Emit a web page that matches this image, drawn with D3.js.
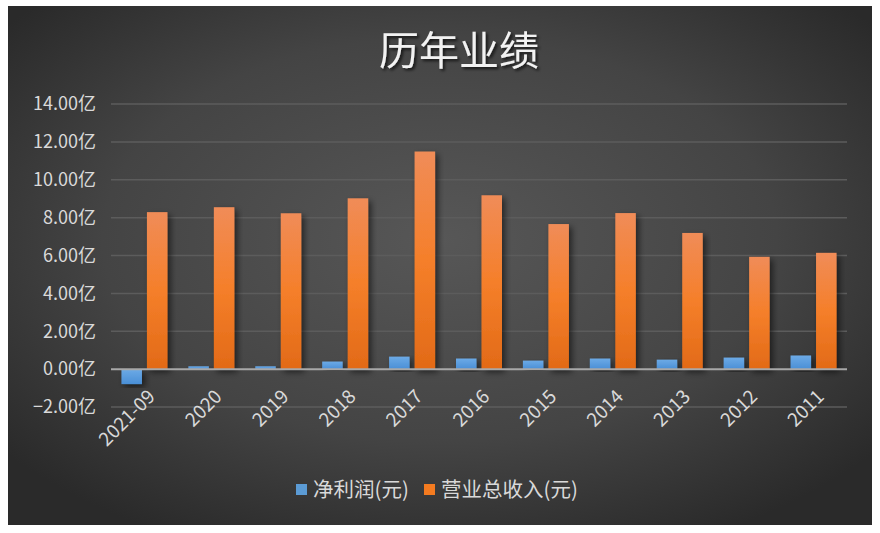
<!DOCTYPE html>
<html><head><meta charset="utf-8">
<script src="https://cdn.jsdelivr.net/npm/d3@7"></script>
<style>html,body{margin:0;padding:0;background:#fff;}svg{display:block;}</style>
</head><body>
<svg id="chart" width="880" height="533"></svg>
<script>
const categories = ["2021-09","2020","2019","2018","2017","2016","2015","2014","2013","2012","2011"];
const netProfit = [-0.79, 0.15, 0.15, 0.40, 0.66, 0.56, 0.45, 0.56, 0.50, 0.61, 0.72];
const revenue = [8.29, 8.55, 8.23, 9.02, 11.49, 9.18, 7.66, 8.24, 7.19, 5.93, 6.14];
const yTicks = [-2, 0, 2, 4, 6, 8, 10, 12, 14];
const seriesNames = ["净利润(元)", "营业总收入(元)"];
const title = "历年业绩";

const svg = d3.select("#chart");
const defs = svg.append("defs");
const font = "'Noto Sans CJK SC','Noto Sans',sans-serif";

const bg = defs.append("radialGradient").attr("id","bg").attr("cx","50%").attr("cy","45%").attr("r","65%");
bg.append("stop").attr("offset","0%").attr("stop-color","#575757");
bg.append("stop").attr("offset","60%").attr("stop-color","#444");
bg.append("stop").attr("offset","100%").attr("stop-color","#2a2a2a");

const og = defs.append("linearGradient").attr("id","og").attr("x1",0).attr("y1",0).attr("x2",0).attr("y2",1);
og.append("stop").attr("offset","0%").attr("stop-color","#f08c58");
og.append("stop").attr("offset","50%").attr("stop-color","#f57f2a");
og.append("stop").attr("offset","100%").attr("stop-color","#e26a17");
const bgr = defs.append("linearGradient").attr("id","bgr").attr("x1",0).attr("y1",0).attr("x2",0).attr("y2",1);
bgr.append("stop").attr("offset","0%").attr("stop-color","#6caae6");
bgr.append("stop").attr("offset","100%").attr("stop-color","#4a8fd6");

const sh = defs.append("filter").attr("id","sh").attr("x","-30%").attr("y","-10%").attr("width","170%").attr("height","130%");
sh.append("feDropShadow").attr("dx",3).attr("dy",3).attr("stdDeviation",3).attr("flood-color","#000").attr("flood-opacity",0.55);
const tsh = defs.append("filter").attr("id","tsh");
tsh.append("feDropShadow").attr("dx",2).attr("dy",2).attr("stdDeviation",1.5).attr("flood-color","#000").attr("flood-opacity",0.7);

svg.append("rect").attr("x",8).attr("y",6).attr("width",864).attr("height",519).attr("fill","url(#bg)");

const plot = {left:111, right:847, top:104, bottom:407};
const y = d3.scaleLinear().domain([-2,14]).range([plot.bottom, plot.top]);
const x0 = d3.scaleBand().domain(categories).range([plot.left, plot.right]).paddingInner(0).paddingOuter(0);
const barW = 20.5, gap = 5;

// grid
svg.append("g").selectAll("line").data(yTicks.filter(d=>d!==0)).join("line")
  .attr("x1",plot.left).attr("x2",plot.right)
  .attr("y1",d=>y(d)).attr("y2",d=>y(d))
  .attr("stroke","#5c5c5c").attr("stroke-width",1.5);

// y labels
const yAxis = d3.axisLeft(y).tickValues(yTicks).tickSize(0).tickPadding(0)
  .tickFormat(d=>d3.format(".2f")(d)+"亿");
const ga = svg.append("g").attr("transform",`translate(96,0)`).call(yAxis);
ga.select(".domain").remove();
ga.selectAll("text").attr("fill","#d9d9d9").attr("font-size","18px").attr("font-family",font);

// bars
const gb = svg.append("g");
gb.selectAll("rect.np").data(categories).join("rect").attr("class","np")
  .attr("x",(d)=>x0(d)+x0.bandwidth()/2 - gap/2 - barW)
  .attr("width",barW)
  .attr("y",(d,i)=>y(Math.max(0,netProfit[i])))
  .attr("height",(d,i)=>Math.abs(y(netProfit[i])-y(0)))
  .attr("fill","url(#bgr)").attr("filter","url(#sh)");
gb.selectAll("rect.rv").data(categories).join("rect").attr("class","rv")
  .attr("x",(d)=>x0(d)+x0.bandwidth()/2 + gap/2)
  .attr("width",barW)
  .attr("y",(d,i)=>y(Math.max(0,revenue[i])))
  .attr("height",(d,i)=>Math.abs(y(revenue[i])-y(0)))
  .attr("fill","url(#og)").attr("filter","url(#sh)");

// zero line
svg.append("line").attr("x1",plot.left).attr("x2",plot.right)
  .attr("y1",y(0)).attr("y2",y(0)).attr("stroke","#a8a8a8").attr("stroke-width",2);

// x labels
svg.append("g").selectAll("text").data(categories).join("text")
  .attr("transform",d=>`translate(${x0(d)+x0.bandwidth()/2+7},${y(0)+24}) rotate(-45)`)
  .attr("text-anchor","end").attr("dy","0.35em")
  .attr("fill","#d9d9d9").attr("font-size","19px").attr("font-family",font)
  .text(d=>d);

// title
svg.append("text").attr("x",459).attr("y",65).attr("text-anchor","middle")
  .attr("fill","#f2f2f2").attr("font-size","40px").attr("font-family",font)
  .attr("filter","url(#tsh)").text(title);

// legend
const colors = ["#5b9bd5","#f47b20"];
const lg = svg.append("g");
const lx = [296, 424];
seriesNames.forEach((n,i)=>{
  lg.append("rect").attr("x",lx[i]).attr("y",484).attr("width",11).attr("height",11).attr("fill",colors[i]);
  lg.append("text").attr("x",lx[i]+17).attr("y",490).attr("dy","0.35em")
    .attr("fill","#d9d9d9").attr("font-size","20.5px").attr("font-family",font).text(n);
});
</script>
</body></html>
